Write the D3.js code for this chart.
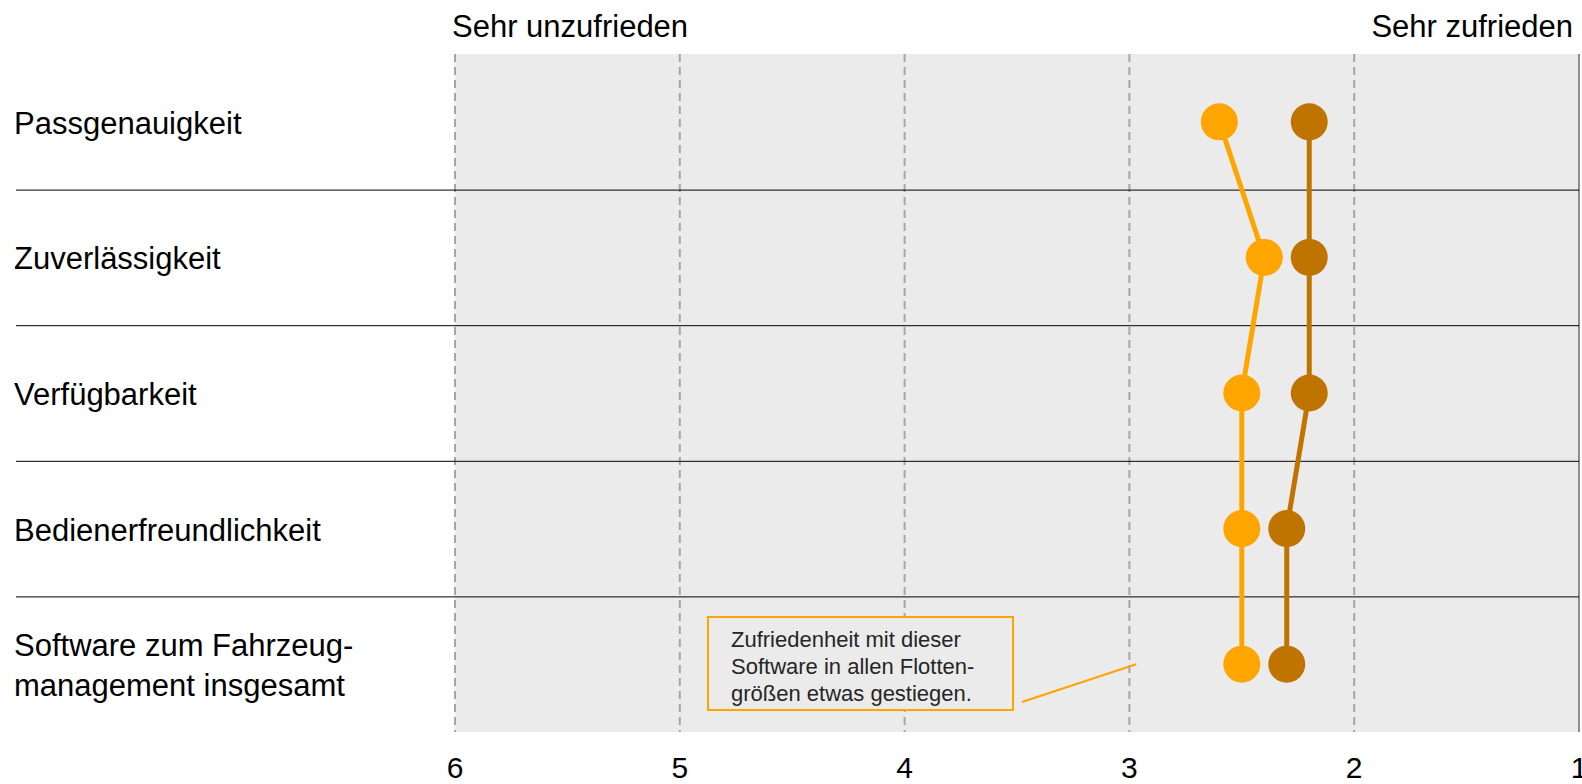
<!DOCTYPE html>
<html>
<head>
<meta charset="utf-8">
<script src="https://cdn.jsdelivr.net/npm/d3@7"></script>
<style>
  html, body { margin: 0; padding: 0; background: #fff; }
  svg { display: block; font-family: "Liberation Sans", Arial, sans-serif; }
</style>
</head>
<body>
<div id="chart"></div>
<script>
const width = 1582;
const height = 784;

// Data
const categories = ["Passgenauigkeit", "Zuverlässigkeit", "Verfügbarkeit", "Bedienerfreundlichkeit", "Software zum Fahrzeug-\nmanagement insgesamt"];
const seriesLight = [2.6, 2.4, 2.5, 2.5, 2.5];
const seriesDark = [2.2, 2.2, 2.2, 2.3, 2.3];
const tickValues = [6, 5, 4, 3, 2, 1];
const endLabels = ["Sehr unzufrieden", "Sehr zufrieden"];
const noteLines = ["Zufriedenheit mit dieser", "Software in allen Flotten-", "größen etwas gestiegen."];

const colors = {light: "#FFA500", dark: "#C07400"};

const plot = {left: 455, right: 1579, top: 54, bottom: 732};

const x = d3.scaleLinear()
  .domain([6, 1])
  .range([plot.left, plot.right]);

const y = d3.scaleBand()
  .domain(categories)
  .range([plot.top, plot.bottom])
  .padding(0);

const svg = d3.select("#chart").append("svg")
  .attr("width", width)
  .attr("height", height)
  .attr("viewBox", [0, 0, width, height]);

// background
svg.append("rect")
  .attr("x", plot.left)
  .attr("y", plot.top)
  .attr("width", plot.right - plot.left)
  .attr("height", plot.bottom - plot.top)
  .attr("fill", "#EBEBEB");

// grid lines
svg.append("g")
  .selectAll("line")
  .data(tickValues)
  .join("line")
    .attr("x1", d => x(d))
    .attr("x2", d => x(d))
    .attr("y1", plot.top)
    .attr("y2", plot.bottom)
    .attr("stroke", d => d === 1 ? "#8C8C8C" : "#A6A6A6")
    .attr("stroke-width", 2)
    .attr("stroke-dasharray", d => d === 1 ? null : "8,5");

// row separators
svg.append("g")
  .selectAll("line")
  .data(categories.slice(1))
  .join("line")
    .attr("x1", 16)
    .attr("x2", plot.right)
    .attr("y1", d => y(d) + 0.5)
    .attr("y2", d => y(d) + 0.5)
    .attr("stroke", "#000")
    .attr("stroke-width", 1);

// x axis labels
svg.append("g")
  .selectAll("text")
  .data(tickValues)
  .join("text")
    .attr("x", d => x(d))
    .attr("y", 778)
    .attr("text-anchor", "middle")
    .attr("font-size", 30)
    .attr("fill", "#000")
    .text(d => d);

// end labels
svg.append("text")
  .attr("x", x(6) - 3)
  .attr("y", 37)
  .attr("font-size", 31)
  .text(endLabels[0]);
svg.append("text")
  .attr("x", x(1) - 6)
  .attr("y", 37)
  .attr("text-anchor", "end")
  .attr("font-size", 31)
  .text(endLabels[1]);

// row labels
const rowLabels = svg.append("g")
  .selectAll("text")
  .data(categories)
  .join("text")
    .attr("x", 14)
    .attr("font-size", 31)
    .attr("fill", "#000");
rowLabels.each(function(d) {
  const lines = d.split("\n");
  const cy = y(d) + y.bandwidth() / 2;
  const lh = 40;
  d3.select(this).selectAll("tspan")
    .data(lines)
    .join("tspan")
      .attr("x", 14)
      .attr("y", (l, i) => cy + 12 + (i - (lines.length - 1) / 2) * lh)
      .text(l => l);
});

// annotation
const note = svg.append("g");
note.append("line")
  .attr("x1", 1022)
  .attr("y1", 702)
  .attr("x2", x(2.97))
  .attr("y2", y(categories[4]) + y.bandwidth() / 2)
  .attr("stroke", colors.light)
  .attr("stroke-width", 2);
note.append("rect")
  .attr("x", 708)
  .attr("y", 617)
  .attr("width", 305)
  .attr("height", 93)
  .attr("fill", "#EBEBEB")
  .attr("stroke", colors.light)
  .attr("stroke-width", 2);
note.append("text")
  .attr("font-size", 22)
  .attr("fill", "#262626")
  .selectAll("tspan")
  .data(noteLines)
  .join("tspan")
    .attr("x", 731)
    .attr("y", (d, i) => 647 + i * 27)
    .text(d => d);

// lines and dots
const series = [
  {key: "light", values: seriesLight},
  {key: "dark", values: seriesDark}
];

const line = d3.line()
  .x(d => x(d.v))
  .y(d => y(d.c) + y.bandwidth() / 2);

series.forEach(s => {
  const pts = s.values.map((v, i) => ({v: v, c: categories[i]}));
  svg.append("path")
    .datum(pts)
    .attr("fill", "none")
    .attr("stroke", colors[s.key])
    .attr("stroke-width", 5)
    .attr("d", line);
  svg.append("g")
    .selectAll("circle")
    .data(pts)
    .join("circle")
      .attr("cx", d => x(d.v))
      .attr("cy", d => y(d.c) + y.bandwidth() / 2)
      .attr("r", 18.5)
      .attr("fill", colors[s.key]);
});
</script>
</body>
</html>
